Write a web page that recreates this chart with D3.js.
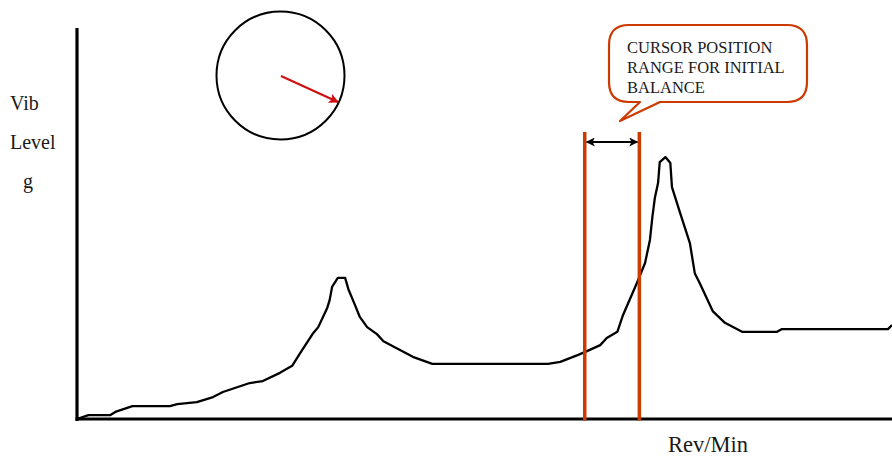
<!DOCTYPE html>
<html>
<head>
<meta charset="utf-8">
<script src="https://cdn.jsdelivr.net/npm/d3@7"></script>
<style>
  html, body { margin: 0; padding: 0; background: #fff; }
  svg { display: block; }
  text { font-family: "Liberation Serif", "Times New Roman", serif; fill: #1a1a1a; }
</style>
</head>
<body>
<div id="chart"></div>
<script>
// rev/min (arbitrary 0..1000) and vibration level g (arbitrary 0..10)
const rpm = [0, 14, 41, 47, 68, 114, 123, 147, 167, 179, 212, 228, 249, 264, 274, 290, 296, 307, 310, 313,
  320, 329, 333, 341, 347, 356, 368, 376, 394, 412, 436, 578, 593, 615, 623, 642, 650, 663, 670, 687,
  697, 703, 706, 709, 713, 715, 722, 728, 730, 740, 752, 758, 764, 780, 795, 816, 859, 865, 995, 1000];
const vib = [0, 0.10, 0.10, 0.18, 0.33, 0.33, 0.38, 0.43, 0.56, 0.69, 0.92, 0.97, 1.18, 1.36, 1.69, 2.20, 2.35, 2.84, 3.04, 3.38,
  3.61, 3.61, 3.32, 2.92, 2.61, 2.35, 2.17, 1.99, 1.79, 1.59, 1.41, 1.41, 1.46, 1.64, 1.71, 1.89, 2.07, 2.23, 2.66, 3.48,
  3.99, 4.58, 5.17, 5.65, 6.04, 6.57, 6.70, 6.55, 5.93, 5.27, 4.50, 3.73, 3.48, 2.76, 2.46, 2.23, 2.23, 2.30, 2.30, 2.40];
const cursors = [623, 690];          // cursor positions, rev/min
const cursorTop = 7.34;              // g
const calloutLines = ["CURSOR POSITION", "RANGE FOR INITIAL", "BALANCE"];
const yLabel = ["Vib", "Level", "g"];
const xLabel = "Rev/Min";

const W = 892, H = 458;
const red = "#cc3a00";

const svg = d3.select("#chart").append("svg")
  .attr("width", W).attr("height", H);

const x = d3.scaleLinear().domain([0, 1000]).range([77, 892]);
const y = d3.scaleLinear().domain([0, 10]).range([419, 28]);

const defs = svg.append("defs");
defs.append("marker").attr("id", "redHead")
  .attr("viewBox", "0 0 10 10").attr("refX", 9).attr("refY", 5)
  .attr("markerWidth", 13).attr("markerHeight", 10).attr("markerUnits", "userSpaceOnUse")
  .attr("orient", "auto")
  .append("path").attr("d", "M0,0 L10,5 L0,10 L2.5,5 Z").attr("fill", "#d01010");
defs.append("marker").attr("id", "blackHead")
  .attr("viewBox", "0 0 10 10").attr("refX", 9).attr("refY", 5)
  .attr("markerWidth", 11).attr("markerHeight", 9).attr("markerUnits", "userSpaceOnUse")
  .attr("orient", "auto-start-reverse")
  .append("path").attr("d", "M0,0 L10,5 L0,10 L2.5,5 Z").attr("fill", "#000");

//axes
svg.append("line").attr("x1", x(0)).attr("x2", x(0)).attr("y1", y(10)).attr("y2", y(0) + 2)
  .attr("stroke", "#000").attr("stroke-width", 3.2);
svg.append("line").attr("x1", x(0) - 1.5).attr("x2", x(1000)).attr("y1", y(0)).attr("y2", y(0))
  .attr("stroke", "#000").attr("stroke-width", 3.2);

//curve
const pts = rpm.map((r, i) => [r, vib[i]]);
svg.append("path")
  .datum(pts)
  .attr("fill", "none")
  .attr("stroke", "#000")
  .attr("stroke-width", 2.3)
  .attr("stroke-linejoin", "round")
  .attr("d", d3.line().x(d => x(d[0])).y(d => y(d[1])).curve(d3.curveLinear));

//cursor lines
svg.selectAll(".cursor").data(cursors).enter().append("line")
  .attr("class", "cursor")
  .attr("x1", d => x(d)).attr("x2", d => x(d))
  .attr("y1", y(cursorTop)).attr("y2", y(0) + 1.5)
  .attr("stroke", red).attr("stroke-width", 3.5);

svg.append("line")
  .attr("x1", x(cursors[0]) + 2).attr("x2", x(cursors[1]) - 2)
  .attr("y1", y(cursorTop) + 10).attr("y2", y(cursorTop) + 10)
  .attr("stroke", "#000").attr("stroke-width", 2)
  .attr("marker-start", "url(#blackHead)").attr("marker-end", "url(#blackHead)");

//unbalance circle
svg.append("circle").attr("cx", 280.5).attr("cy", 75.5).attr("r", 64)
  .attr("fill", "none").attr("stroke", "#000").attr("stroke-width", 2);
svg.append("line").attr("x1", 281).attr("y1", 76).attr("x2", 338).attr("y2", 102)
  .attr("stroke", "#d01010").attr("stroke-width", 2.2).attr("marker-end", "url(#redHead)");

//callout
const L = 609, R = 807, T = 25, B = 102, rr = 20;
const bubble = `M${L + rr},${T} H${R - rr} Q${R},${T} ${R},${T + rr} V${B - rr} Q${R},${B} ${R - rr},${B}
  H660 L620,121 L640,${B} H${L + rr} Q${L},${B} ${L},${B - rr} V${T + rr} Q${L},${T} ${L + rr},${T} Z`;
svg.append("path").attr("d", bubble)
  .attr("fill", "#fff").attr("stroke", red).attr("stroke-width", 2.2).attr("stroke-linejoin", "round");
svg.selectAll(".callout").data(calloutLines).enter().append("text")
  .attr("class", "callout")
  .attr("x", 627).attr("y", (d, i) => 53 + i * 20)
  .attr("font-size", "16.5px")
  .text(d => d);

//labels
svg.selectAll(".ylab").data(yLabel).enter().append("text")
  .attr("class", "ylab")
  .attr("x", (d, i) => i === 2 ? 23 : 10)
  .attr("y", (d, i) => 110 + i * 39)
  .attr("font-size", "20px")
  .text(d => d);

svg.append("text").attr("x", 668).attr("y", 452)
  .attr("font-size", "22.5px").text(xLabel);
</script>
</body>
</html>
